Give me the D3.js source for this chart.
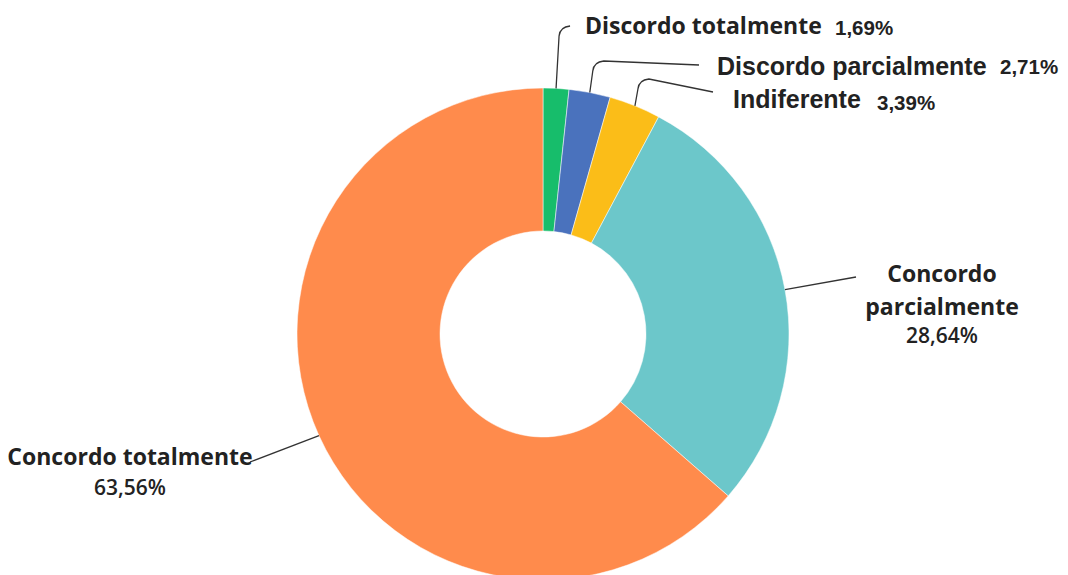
<!DOCTYPE html>
<html>
<head>
<meta charset="utf-8">
<script src="https://cdn.jsdelivr.net/npm/d3@7"></script>
<style>
  html, body { margin: 0; padding: 0; background: #ffffff; }
  svg { display: block; }
  text { fill: #222222; }
  .f-open { font-family: "Open Sans", "Noto Sans", sans-serif; font-weight: 700; }
  .f-open-pct { font-family: "Open Sans", "Noto Sans", sans-serif; font-weight: 600; }
  .f-arial { font-family: "Liberation Sans", Arial, sans-serif; font-weight: 700; }
</style>
</head>
<body>
<svg id="chart" width="1068" height="575"></svg>
<script>
// Respostas (percentual de respondentes)
const categories = [
  "Discordo totalmente",
  "Discordo parcialmente",
  "Indiferente",
  "Concordo parcialmente",
  "Concordo totalmente"
];
const values = [1.69, 2.71, 3.39, 28.64, 63.56];
const colors = ["#17bd6b", "#4a72bd", "#fbbd18", "#6cc7ca", "#ff8b4c"];

// Label text lines for each slice
const labelLines = [
  ["Discordo totalmente"],
  ["Discordo parcialmente"],
  ["Indiferente"],
  ["Concordo", "parcialmente"],
  ["Concordo totalmente"]
];

const fmt = v => v.toFixed(2).replace(".", ",") + "%";

const svg = d3.select("#chart");
const cx = 543, cy = 334;
const outerR = 246, innerR = 103;

const g = svg.append("g").attr("transform", `translate(${cx},${cy})`);

const pie = d3.pie().sort(null).value(d => d.value);
const arcs = pie(categories.map((c, i) => ({ name: c, value: values[i], color: colors[i] })));

const arc = d3.arc().innerRadius(innerR).outerRadius(outerR);

g.selectAll("path.slice")
  .data(arcs)
  .join("path")
  .attr("class", "slice")
  .attr("d", arc)
  .attr("fill", d => d.data.color)
  .attr("stroke", "#ffffff")
  .attr("stroke-width", 0.5);

// Point on the outer rim at the slice mid-angle
function rimPoint(d) {
  const a = (d.startAngle + d.endAngle) / 2;
  return [cx + outerR * Math.sin(a), cy - outerR * Math.cos(a)];
}

// Label placement (page coordinates) and leader routing
const layout = [
  { x: 585, y: 34, cls: "f-open", size: 23, pctX: 835, pctY: 35, elbowY: 27, end: null },
  { x: 717, y: 75, cls: "f-arial", size: 25, pctX: 1000, pctY: 74, elbowY: 62, end: [699, 65] },
  { x: 733, y: 108, cls: "f-arial", size: 25, pctX: 877, pctY: 110, elbowY: 80, end: [713, 92] },
  { x: 942, y: 282, cls: "f-open", size: 23, lineGap: 33, pctY: 343, end: [856, 277] },
  { x: 130, y: 465, cls: "f-open", size: 23, lineGap: 33, pctY: 495, end: [250, 462] }
];

const lines = svg.append("g")
  .attr("fill", "none")
  .attr("stroke", "#333333")
  .attr("stroke-width", 1.3);

arcs.forEach((d, i) => {
  const [sx, sy] = rimPoint(d);
  const L = layout[i];
  let path;
  if (L.elbowY !== undefined) {
    const ex = sx + 3;
    path = `M${sx},${sy} L${ex},${L.elbowY + 9} Q${ex + 1},${L.elbowY} ${ex + 11},${L.elbowY - 1}`;
    if (L.end) path += ` L${L.end[0]},${L.end[1]}`;
  } else {
    path = `M${sx},${sy} L${L.end[0]},${L.end[1]}`;
  }
  lines.append("path").attr("d", path);
});

const labels = svg.append("g");
arcs.forEach((d, i) => {
  const L = layout[i];
  if (L.pctX !== undefined) {
    labels.append("text")
      .attr("class", L.cls)
      .attr("x", L.x).attr("y", L.y)
      .attr("font-size", L.size)
      .text(labelLines[i][0]);
    labels.append("text")
      .attr("class", "f-arial")
      .attr("x", L.pctX).attr("y", L.pctY)
      .attr("font-size", 20.5)
      .text(fmt(d.data.value));
  } else {
    const t = labels.append("text")
      .attr("class", L.cls)
      .attr("text-anchor", "middle")
      .attr("font-size", L.size);
    labelLines[i].forEach((s, k) => {
      t.append("tspan").attr("x", L.x).attr("y", L.y + k * L.lineGap).text(s);
    });
    labels.append("text")
      .attr("class", "f-open-pct")
      .attr("text-anchor", "middle")
      .attr("x", L.x)
      .attr("y", L.pctY)
      .attr("font-size", 21)
      .text(fmt(d.data.value));
  }
});
</script>
</body>
</html>
